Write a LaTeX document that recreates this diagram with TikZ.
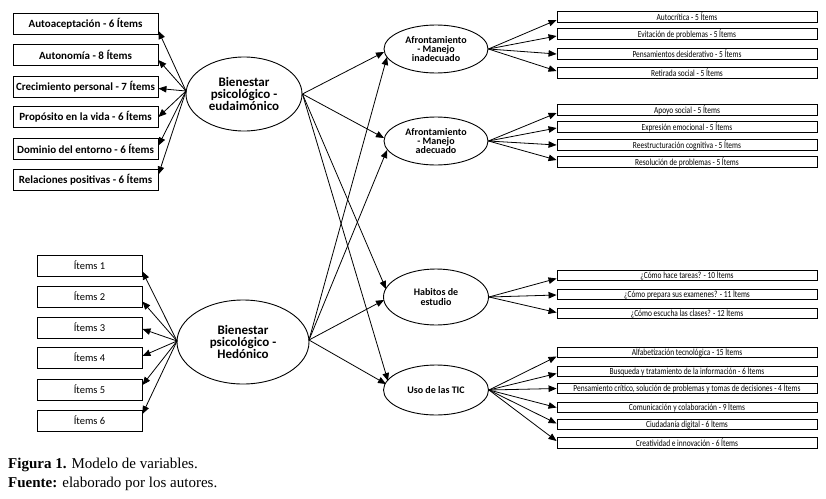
\documentclass[tikz,border=0pt]{standalone}
\usepackage{fontspec}
\setmainfont{Liberation Serif}
\newfontfamily\bfnt{Carlito}
\newfontfamily\cnd[FakeStretch=0.8]{Carlito}
\usetikzlibrary{shapes.geometric,arrows.meta,calc}
\begin{document}
\begin{tikzpicture}[x=1pt,y=-1pt,
 lbox/.style={draw, line width=0.9pt, minimum width=145, minimum height=21, inner sep=0, font=\bfnt\bfseries\fontsize{11}{12}\selectfont},
 ibox/.style={draw, line width=0.9pt, minimum width=105, minimum height=21, inner sep=0, font=\bfnt\fontsize{10.5}{12}\selectfont},
 rbox/.style={draw, line width=0.9pt, minimum width=260, minimum height=10.5, inner sep=0, font=\cnd\fontsize{9.3}{10}\selectfont},
 lat/.style={ellipse, draw, line width=0.9pt, inner sep=0, align=center},
 arr/.style={line width=0.8pt, -{Triangle[length=8pt,width=6.5pt]}},
]
\useasboundingbox (0,0) rectangle (826,498);

% left top boxes
\node[lbox] (l1) at (85.5,24) {Autoaceptación - 6 Ítems};
\node[lbox] (l2) at (85.5,55) {Autonomía - 8 Ítems};
\node[lbox] (l3) at (85.5,86.5) {Crecimiento personal - 7 Ítems};
\node[lbox] (l4) at (85.5,117) {Propósito en la vida - 6 Ítems};
\node[lbox] (l5) at (85.5,148.5) {Dominio del entorno - 6 Ítems};
\node[lbox] (l6) at (85.5,179.5) {Relaciones positivas - 6 Ítems};

% items boxes
\node[ibox] (i1) at (89.5,265.5) {Ítems 1};
\node[ibox] (i2) at (89.5,296.5) {Ítems 2};
\node[ibox] (i3) at (89.5,327.5) {Ítems 3};
\node[ibox] (i4) at (89.5,357.5) {Ítems 4};
\node[ibox] (i5) at (89.5,389.5) {Ítems 5};
\node[ibox] (i6) at (89.5,420.5) {Ítems 6};

% latent ellipses
\node[lat, minimum width=116, minimum height=74, font=\bfnt\bfseries\fontsize{13}{12}\selectfont] (eud) at (244,94) {Bienestar\\psicológico -\\eudaimónico};
\node[lat, minimum width=132, minimum height=84, font=\bfnt\bfseries\fontsize{13}{12}\selectfont] (hed) at (243,342) {Bienestar\\psicológico -\\Hedónico};
\node[lat, minimum width=104, minimum height=48, font=\bfnt\bfseries\fontsize{10}{9.2}\selectfont] (inad) at (436,49) {Afrontamiento\\- Manejo\\inadecuado};
\node[lat, minimum width=104, minimum height=48, font=\bfnt\bfseries\fontsize{10}{9.2}\selectfont] (adec) at (436,141) {Afrontamiento\\- Manejo\\adecuado};
\node[lat, minimum width=105, minimum height=56, font=\bfnt\bfseries\fontsize{10}{9.2}\selectfont] (hab) at (436,297) {Habitos de\\estudio};
\node[lat, minimum width=105, minimum height=50, font=\bfnt\bfseries\fontsize{10}{9.2}\selectfont] (tic) at (436,390) {Uso de las TIC};

% right boxes
\node[rbox] (a1) at (687,17) {Autocrítica - 5 Ítems};
\node[rbox] (a2) at (687,34) {Evitación de problemas - 5 Ítems};
\node[rbox] (a3) at (687,54) {Pensamientos desiderativo - 5 Ítems};
\node[rbox] (a4) at (687,73) {Retirada social - 5 Ítems};

\node[rbox] (b1) at (687,110) {Apoyo social - 5 Ítems};
\node[rbox] (b2) at (687,127) {Expresión emocional - 5 Ítems};
\node[rbox] (b3) at (687,145) {Reestructuración cognitiva - 5 Ítems};
\node[rbox] (b4) at (687,162) {Resolución de problemas - 5 Ítems};

\node[rbox] (h1) at (687,275.5) {¿Cómo hace tareas? - 10 Ítems};
\node[rbox] (h2) at (687,294.5) {¿Cómo prepara sus examenes? - 11 Ítems};
\node[rbox] (h3) at (687,313.5) {¿Cómo escucha las clases? - 12 Ítems};

\node[rbox] (t1) at (687,352.5) {Alfabetización tecnológica - 15 Ítems};
\node[rbox] (t2) at (687,371.5) {Busqueda y tratamiento de la información - 6 Ítems};
\node[rbox] (t3) at (687,388.5) {Pensamiento crítico, solución de problemas y tomas de decisiones - 4 Ítems};
\node[rbox] (t4) at (687,407.5) {Comunicación y colaboración - 9 Ítems};
\node[rbox] (t5) at (687,424.5) {Ciudadanía digital - 6 Ítems};
\node[rbox] (t6) at (687,443) {Creatividad e innovación - 6 Ítems};

% left fans
\coordinate (es) at ($(eud.center)+(-58,-3)$);
\foreach \n/\d in {l1/7,l2/5,l3/2,l4/0,l5/-3,l6/-5}
  \draw[arr] (es) -- ($(\n.east)+(0,\d)$);
\coordinate (hs) at ($(hed.center)+(-66,-1)$);
\foreach \n/\d in {i1/6,i2/5,i3/1.5,i4/-1.5,i5/-4.5,i6/-6.5}
  \draw[arr] (hs) -- ($(\n.east)+(0,\d)$);

% middle structural paths
\coordinate (ee) at (eud.east);
\coordinate (he) at ($(hed.center)+(66,-2)$);
\draw[arr] (ee) -- ($(inad.center)+(-52,3)$);
\draw[arr] (ee) -- ($(adec.center)+(-52,-3)$);
\draw[arr] (ee) -- ($(hab.center)+(-50,-8)$);
\draw[arr] (ee) -- ($(tic.center)+(-48,-9)$);
\draw[arr] (he) -- ($(inad.center)+(-49,8)$);
\draw[arr] (he) -- ($(adec.center)+(-49,9)$);
\draw[arr] (he) -- ($(hab.center)+(-52,3)$);
\draw[arr] (he) -- ($(tic.center)+(-50,-6)$);

% right fans
\foreach \n/\d in {a1/3,a2/2,a3/0,a4/-2}
  \draw[arr] (inad.east) -- ($(\n.west)+(0,\d)$);
\foreach \n/\d in {b1/3,b2/1,b3/0,b4/-2}
  \draw[arr] (adec.east) -- ($(\n.west)+(0,\d)$);
\foreach \n/\d in {h1/3,h2/0.5,h3/-1}
  \draw[arr] (hab.east) -- ($(\n.west)+(0,\d)$);
\foreach \n/\d in {t1/4,t2/2,t3/0,t4/0,t5/-1,t6/-2}
  \draw[arr] (tic.east) -- ($(\n.west)+(0,\d)$);

% caption
\node[anchor=base west, inner sep=0, font=\fontsize{15}{18}\selectfont] (cap1) at (8,468) {\textbf{Figura 1.} Modelo de variables.};
\node[anchor=base west, inner sep=0, font=\fontsize{15}{18}\selectfont] (cap2) at (8,487) {\textbf{Fuente:} elaborado por los autores.};
\end{tikzpicture}
\end{document}
